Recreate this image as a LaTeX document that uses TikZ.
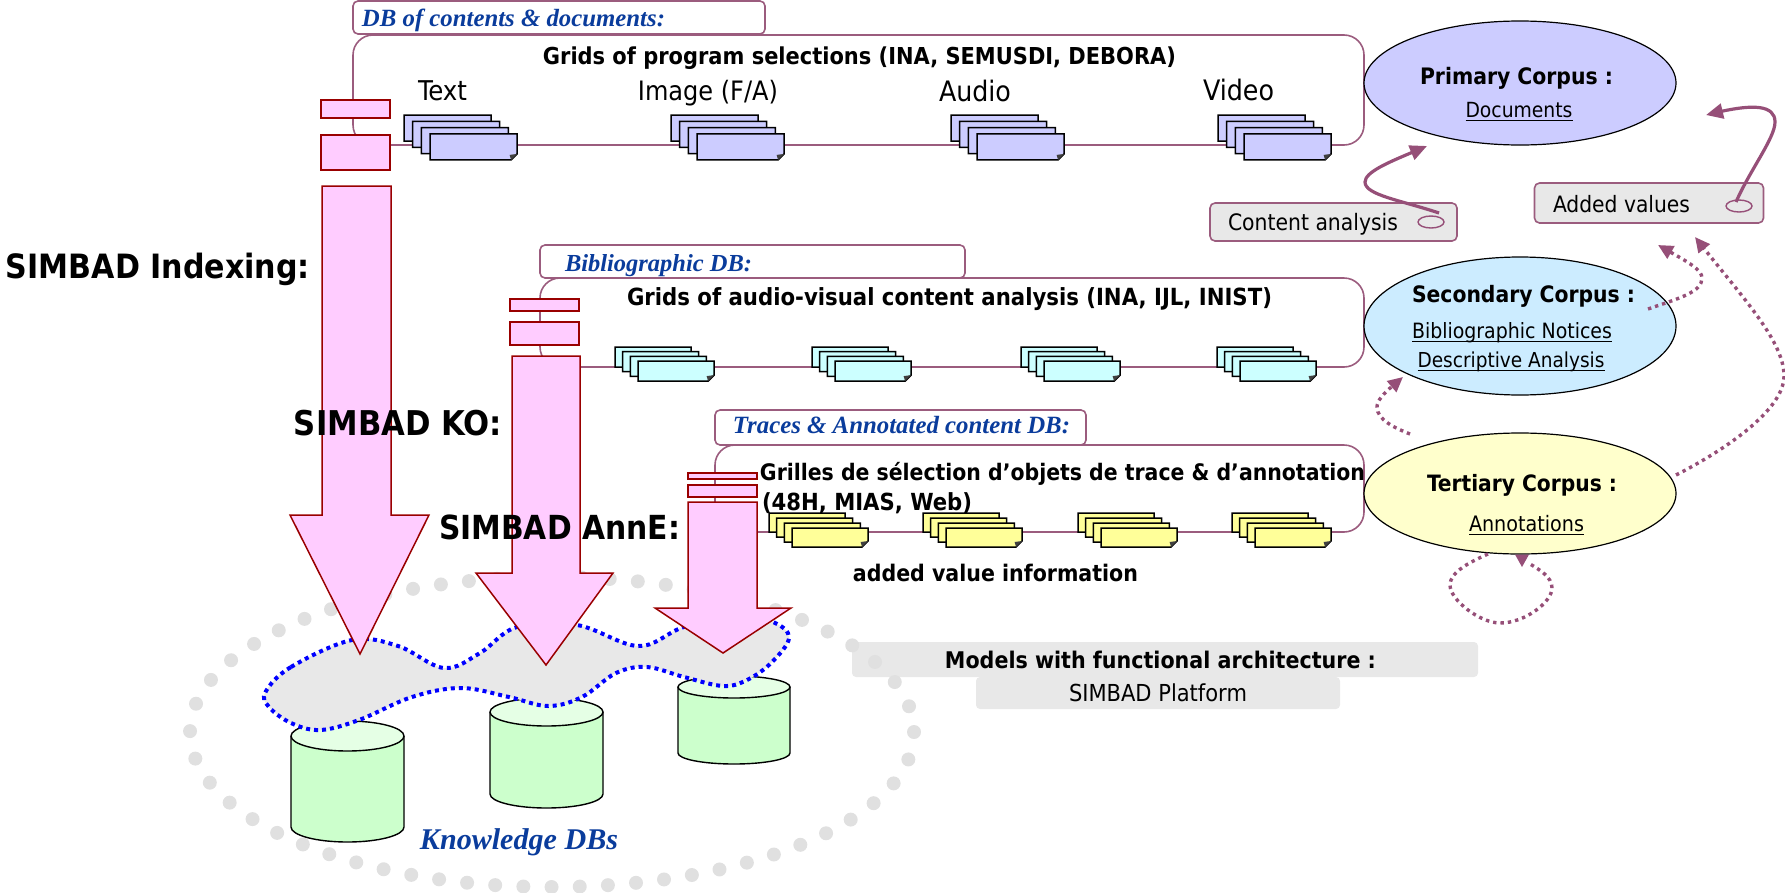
\documentclass[tikz,border=0pt]{standalone}
\usepackage{fontspec}
\usepackage{graphicx}
\usetikzlibrary{arrows.meta,shapes.geometric,bending}
\newfontfamily\tah{DejaVu Sans Condensed}
\newfontfamily\ser{Liberation Serif}
\definecolor{boxl}{HTML}{9B5C7E}
\definecolor{arrc}{HTML}{964F78}
\definecolor{pinkf}{HTML}{FFCCFF}
\definecolor{pinkd}{HTML}{990000}
\definecolor{dbblue}{HTML}{0A3C9C}
\definecolor{grayf}{HTML}{E8E8E8}
\definecolor{dotg}{HTML}{E0E0E0}
\definecolor{docb}{HTML}{CCCCFF}
\definecolor{docc}{HTML}{CCFFFF}
\definecolor{docy}{HTML}{FFFF99}
\definecolor{secf}{HTML}{CCECFF}
\definecolor{terf}{HTML}{FFFFCC}
\definecolor{cylg}{HTML}{CCFFCC}
\definecolor{cylt}{HTML}{E5FFE5}
\newcommand\ulx[1]{\underline{\smash{#1}\vphantom{Dx}}}
\newcommand\lbl[5]{\node[inner sep=0pt] (#1) at (#2,#3) {\resizebox{#4pt}{!}{#5}};}
\newcommand\blab[5]{\lbl{#1}{#2}{#3}{#4}{\tah\bfseries #5}}
\newcommand\rlab[5]{\lbl{#1}{#2}{#3}{#4}{\tah #5}}
\newcommand\ilab[5]{\lbl{#1}{#2}{#3}{#4}{\color{dbblue}\ser\bfseries\itshape #5}}
% x y w h dx dy colour
\newcommand\docstack[7]{%
  \foreach \i in {0,1,2,3}{%
    \pgfmathsetmacro\sx{#1+\i*#5}\pgfmathsetmacro\sy{#2+\i*#6}%
    \draw[docline,fill=#7] (\sx,\sy) -- ++(#3,0) -- ++(0,#4-6) -- ++(-6,6) -- ++(-#3+6,0) -- cycle;
    \ifnum\i=3
      \fill[black!75] (\sx+#3,\sy+#4-6) -- ++(-6,6) -- ++(-1.5,-5) -- cycle;
    \fi
  }}
\tikzset{
  docline/.style={line width=1.5pt,draw=black},
  framebox/.style={draw=boxl,line width=1.6pt,rounded corners=20pt},
  titlebox/.style={draw=boxl,line width=1.6pt,rounded corners=5pt,fill=white},
  pinkbox/.style={draw=pinkd,line width=1.5pt,fill=pinkf},
  corpus/.style={ellipse,draw=black,line width=1.2pt,inner sep=0pt},
  curvarr/.style={draw=arrc,line width=3.2pt,-{Triangle[length=17pt,width=15pt,flex]}},
  dotarr/.style={draw=arrc,line width=3.4pt,dash pattern=on 3.4pt off 4pt,-{Triangle[length=15pt,width=14pt,flex]}},
  dotplain/.style={draw=arrc,line width=3.4pt,dash pattern=on 3.4pt off 4pt},
  tagbox/.style={draw=boxl,line width=1.6pt,rounded corners=5pt,fill=grayf},
  tagmark/.style={ellipse,draw=arrc,line width=1.4pt,minimum width=26pt,minimum height=12pt,inner sep=0pt},
  cyl/.style={draw=black,line width=1.4pt,fill=#1},
  softbox/.style={fill=grayf,rounded corners=4pt},
}
\begin{document}
\begin{tikzpicture}[x=1pt,y=-1pt]
\useasboundingbox (0,0) rectangle (1785,892);
% soft boxes
\fill[softbox] (852,642) rectangle (1478,677);
\fill[softbox] (976,677) rectangle (1340,709);
% gray dotted ellipse
\draw[dotg,line width=14pt,line cap=round,dash pattern=on 0pt off 28.2pt] (552,732) ellipse [x radius=362,y radius=155];
% frames
\draw[framebox] (353,145) rectangle (1364,35);
\draw[framebox] (540,367) rectangle (1364,278);
\draw[framebox] (715,532) rectangle (1364,445);
\node[titlebox,minimum width=412pt,minimum height=33pt,inner sep=0pt] (t1) at (559,17.5) {};
\node[titlebox,minimum width=425pt,minimum height=33pt,inner sep=0pt] (t2) at (752.5,261.5) {};
\node[titlebox,minimum width=371pt,minimum height=35pt,inner sep=0pt] (t3) at (900.5,427.5) {};
% doc stacks
\docstack{404}{115}{87}{26}{8.7}{6.3}{docb}
\docstack{671}{115}{87}{26}{8.7}{6.3}{docb}
\docstack{951}{115}{87}{26}{8.7}{6.3}{docb}
\docstack{1218}{115}{87}{26}{8.7}{6.3}{docb}
\docstack{615}{347}{76}{20}{7.7}{4.7}{docc}
\docstack{812}{347}{76}{20}{7.7}{4.7}{docc}
\docstack{1021}{347}{76}{20}{7.7}{4.7}{docc}
\docstack{1217}{347}{76}{20}{7.7}{4.7}{docc}
\docstack{769}{513}{76}{19}{7.7}{5}{docy}
\docstack{923}{513}{76}{19}{7.7}{5}{docy}
\docstack{1078}{513}{76}{19}{7.7}{5}{docy}
\docstack{1232}{513}{76}{19}{7.7}{5}{docy}
% cylinders
\draw[cyl=cylg] (291,736) -- (291,827) arc[start angle=180,end angle=0,x radius=56.5,y radius=15] -- (404,736);
\fill[cylt] (347.5,736) ellipse [x radius=56.5,y radius=15];
\draw[line width=1.4pt] (347.5,736) ellipse [x radius=56.5,y radius=15];
\draw[cyl=cylg] (490,712) -- (490,794) arc[start angle=180,end angle=0,x radius=56.5,y radius=14] -- (603,712);
\fill[cylt] (546.5,712) ellipse [x radius=56.5,y radius=14];
\draw[line width=1.4pt] (546.5,712) ellipse [x radius=56.5,y radius=14];
\draw[cyl=cylg] (678,687) -- (678,753) arc[start angle=180,end angle=0,x radius=56,y radius=11] -- (790,687);
\fill[cylt] (734,687) ellipse [x radius=56,y radius=11];
\draw[line width=1.4pt] (734,687) ellipse [x radius=56,y radius=11];
% blob
\draw[blue,line width=4pt,dash pattern=on 4pt off 4pt,fill=grayf] plot[smooth cycle,tension=.6] coordinates {
 (265.5,692) (291,667) (352,640) (398,646) (444,668) (480,653) (517,627) (577,625) (638,646) (681,628)
 (730,612) (773,622) (789,638) (771,663) (747,680) (723,686) (684,677) (647,667) (616,673) (582,697)
 (548,706) (509,697) (461,688) (412,697) (359,720) (320,730) (291,723) (269,707)};
% pink arrows
\draw[pinkbox] (322,186) -- (391,186) -- (391,515) -- (429,515) -- (360,654) -- (290,515) -- (322,515) -- cycle;
\draw[pinkbox] (512,356) -- (580,356) -- (580,573) -- (613,573) -- (546,665) -- (476,573) -- (512,573) -- cycle;
\draw[pinkbox] (688,502) -- (757,502) -- (757,608) -- (791,608) -- (723,653) -- (655,608) -- (688,608) -- cycle;
\draw[pinkbox] (321,100) rectangle (390,118);
\draw[pinkbox] (321,135) rectangle (390,170);
\draw[pinkbox] (510,299) rectangle (579,311);
\draw[pinkbox] (510,322) rectangle (579,345);
\draw[pinkbox] (688,473) rectangle (757,479);
\draw[pinkbox] (688,485) rectangle (757,497);
% corpus ellipses
\node[corpus,fill=docb,minimum width=312pt,minimum height=124pt] (prim) at (1520,83) {};
\node[corpus,fill=secf,minimum width=312pt,minimum height=138pt] (sec) at (1520,326) {};
\node[corpus,fill=terf,minimum width=312pt,minimum height=121pt] (ter) at (1520,493.5) {};
% tag boxes
\node[tagbox,minimum width=247pt,minimum height=38pt,inner sep=0pt] (cabox) at (1333.5,222) {};
\node[tagbox,minimum width=229pt,minimum height=40pt,inner sep=0pt] (avbox) at (1649,203) {};
\node[tagmark] (cam) at (1431,222) {};
\node[tagmark] (avm) at (1739,206) {};
% free ends
\coordinate (c1) at (1439,213); \coordinate (c2) at (1427,146);
\coordinate (a1) at (1736,202); \coordinate (a2) at (1706,115);
\coordinate (s1) at (1648,309); \coordinate (s2) at (1658,245);
\coordinate (b1) at (1676,475); \coordinate (b2) at (1695,237);
\coordinate (n1) at (1410,434); \coordinate (n2) at (1403,377);
\coordinate (l1) at (1488,554); \coordinate (l2) at (1530,564);
% curved arrows
\draw[curvarr] (c1) .. controls (1400,200) and (1365,195) .. (1365,182) .. controls (1365,170) and (1400,158) .. (c2);
\draw[curvarr] (a1) .. controls (1750,170) and (1775,138) .. (1775,122) .. controls (1775,102) and (1745,105) .. (a2);
\draw[dotarr] (s1) .. controls (1680,298) and (1702,292) .. (1702,278) .. controls (1702,268) and (1680,258) .. (s2);
\draw[dotarr] (b1) .. controls (1725,450) and (1784,410) .. (1784,376) .. controls (1784,340) and (1740,295) .. (b2);
\draw[dotarr] (n1) .. controls (1395,428) and (1377,420) .. (1377,407) .. controls (1377,398) and (1390,388) .. (n2);
\draw[dotplain] (l1) .. controls (1470,562) and (1450,572) .. (1450,585) .. controls (1450,600) and (1480,623) .. (1500,623) .. controls (1525,623) and (1552,602) .. (1552,588) .. controls (1552,577) and (1540,570) .. (l2);
\fill[arrc] (1515,554.5) -- (1529,554.5) -- (1522,567) -- cycle;
% texts
\ilab{lt1}{513.5}{20}{303}{DB of contents \& documents:}
\ilab{lt2}{658.5}{266}{187}{Bibliographic DB:}
\ilab{lt3}{901.5}{425}{337}{Traces \& Annotated content DB:}
\blab{g1}{859.5}{58}{633}{Grids of program selections (INA, SEMUSDI, DEBORA)}
\blab{g2}{949.5}{299}{645}{Grids of audio-visual content analysis (INA, IJL, INIST)}
\blab{g3}{1062.5}{474}{605}{Grilles de sélection d’objets de trace \& d’annotation}
\blab{g4}{867}{503}{210}{(48H, MIAS, Web)}
\blab{g5}{995.5}{573}{285}{added value information}
\rlab{k1}{442.5}{91}{49}{Text}
\rlab{k2}{708}{93}{140}{Image (F/A)}
\rlab{k3}{975}{91}{72}{Audio}
\rlab{k4}{1238.5}{90}{71}{Video}
\blab{s1t}{158}{269}{304}{SIMBAD Indexing:}
\blab{s2t}{398}{423}{208}{SIMBAD KO:}
\blab{s3t}{559.5}{527}{241}{SIMBAD AnnE:}
\blab{m1}{1160.5}{660}{431}{Models with functional architecture :}
\rlab{m2}{1158}{693}{178}{SIMBAD Platform}
\lbl{kn}{519}{842}{198}{\color{dbblue}\ser\bfseries\itshape Knowledge DBs}
\blab{p1}{1516.5}{78}{193}{Primary Corpus :}
\rlab{p2}{1519}{112}{107}{\ulx{Documents}}
\blab{p3}{1523.5}{296}{223}{Secondary Corpus :}
\rlab{p4}{1512}{333}{200}{\ulx{Bibliographic Notices}}
\rlab{p5}{1511}{362}{187}{\ulx{Descriptive Analysis}}
\blab{p6}{1522}{485}{190}{Tertiary Corpus :}
\rlab{p7}{1526.5}{526}{115}{\ulx{Annotations}}
\rlab{ca}{1313}{224}{170}{Content analysis}
\rlab{av}{1621.5}{204}{137}{Added values}
\end{tikzpicture}
\end{document}
